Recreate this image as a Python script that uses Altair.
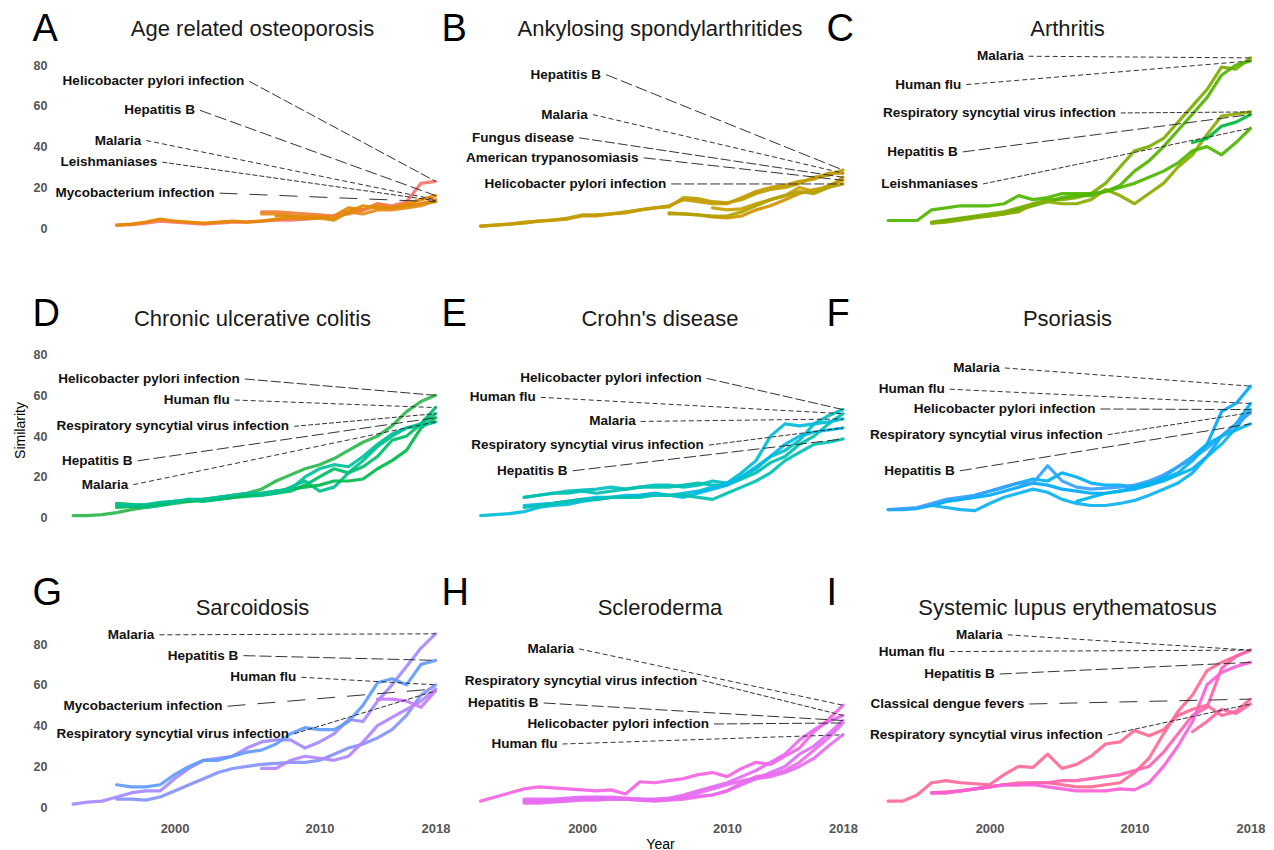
import altair as alt
import pandas as pd

# ---------------- data ----------------
titles = ["Age related osteoporosis", "Ankylosing spondylarthritides", "Arthritis",
          "Chronic ulcerative colitis", "Crohn's disease", "Psoriasis",
          "Sarcoidosis", "Scleroderma", "Systemic lupus erythematosus"]
letters = ["A", "B", "C", "D", "E", "F", "G", "H", "I"]

# Panel A
A_names = ["Helicobacter pylori infection", "Hepatitis B", "Malaria", "Leishmaniases", "Mycobacterium infection"]
A_start = [1996, 1996, 2006, 2006, 2007]
A_vals = [[1.5, 1.8, 2.5, 3.5, 3, 2.5, 2, 2.5, 3, 3, 3.5, 4, 4, 4.5, 5, 6, 8, 9, 12, 11, 13, 22, 23],
          [1.5, 2, 3, 4.5, 3.5, 3, 2.5, 3, 3.5, 3, 3.5, 4.5, 5, 5, 5.5, 6, 10, 9, 11, 10, 12, 14, 16],
          [8, 8, 7.5, 7, 6.5, 6, 7, 9, 12, 10, 11, 12, 14],
          [7, 7, 6, 6, 5.5, 5, 8, 7, 9, 9, 10, 11, 13.5],
          [6, 6, 5, 5, 4, 8, 11, 10, 10, 11, 12, 13]]
A_colors = ["#F8766D", "#E58700", "#F07F3C", "#E88B1E", "#DE8C00"]
A_label_year = [2004.8, 2001.4, 1997.7, 1998.8, 2002.75]
A_label_value = [72, 57.8, 43, 32.4, 17.2]

# Panel B
B_names = ["Hepatitis B", "Malaria", "Fungus disease", "American trypanosomiasis", "Helicobacter pylori infection"]
B_start = [1993, 1993, 2006, 2009, 2006]
B_vals = [[1, 1.5, 2, 2.5, 3.5, 4, 5, 6.5, 6.5, 7, 8, 9, 10, 10.5, 15, 14.5, 13, 12.5, 14, 17, 19, 20, 22, 25, 26, 28.5],
          [1, 1.5, 2, 3, 3.5, 4, 4.5, 6, 6, 7, 7.5, 9, 10, 11, 14, 13, 12, 12, 15, 18, 20, 21, 23, 24, 27, 27],
          [7.5, 7, 6.5, 5.5, 5, 6, 9, 11, 14, 17, 19, 20, 25],
          [10, 9, 9.5, 12, 14, 16, 20, 18, 21, 23.5],
          [7, 7, 6.5, 6, 6, 8, 11, 14, 16, 18, 17, 20, 21.7]]
B_colors = ["#B8A000", "#C49A00", "#D39200", "#C9A000", "#AFA300"]
B_label_year = [2001.3, 2000.4, 1999.45, 2003.9, 2005.8]
B_label_value = [75.3, 55.7, 44.3, 34.5, 21.7]

# Panel C
C_names = ["Malaria", "Human flu", "Respiratory syncytial virus infection", "Hepatitis B", "Leishmaniases"]
C_start = [1996, 1996, 1996, 2014, 1993]
C_vals = [[3, 4, 5, 6, 7, 8, 10, 12, 14, 14, 15, 17, 22, 30, 38, 40, 44, 52, 60, 68, 79, 78, 83.5],
          [2.5, 3.5, 4.5, 5.5, 6, 7, 9, 11, 13, 15, 16, 16, 18, 21, 28, 33, 40, 48, 56, 64, 75, 80, 82],
          [2.5, 3, 4, 5, 6, 7, 8, 12, 13, 12, 12, 14, 19, 16, 12, 17, 22, 30, 36, 46, 55, 56, 57],
          [42, 44, 50, 52, 55.7],
          [3.8, 3.8, 3.8, 9, 10, 11, 11, 11, 12, 16, 14, 15, 17, 17, 17, 18, 20, 22, 25, 28, 32, 38, 40, 36, 42, 49]]
C_colors = ["#7CAE00", "#53B400", "#8AAB00", "#00BA38", "#4DB600"]
C_label_year = [2002.35, 1998.05, 2008.7, 1997.8, 1999.2]
C_label_value = [84.3, 70.4, 56.5, 37.4, 21.7]

# Panel D
D_names = ["Helicobacter pylori infection", "Human flu", "Respiratory syncytial virus infection", "Hepatitis B", "Malaria"]
D_start = [1993, 1996, 1996, 1996, 1996]
D_vals = [[1, 1, 1.5, 2.5, 4, 5, 6, 7, 8, 9, 10, 11, 12, 14, 18, 21, 24, 26, 29, 33, 37, 40, 45, 52, 57, 60],
          [7, 6.5, 6, 7, 8, 8.5, 8, 9, 10, 11, 11, 12, 13, 16, 20, 24, 22, 25, 30, 38, 40, 46, 54],
          [6, 5.5, 5, 6, 7.5, 9, 8.5, 9, 10, 10.5, 11, 12, 15, 18, 13, 15, 22, 28, 35, 40, 44, 46, 51],
          [5, 5.5, 6, 7, 8, 8, 9, 9.5, 10, 11, 12, 13, 14, 15, 16, 18, 18, 19, 24, 28, 33, 44, 49],
          [6, 6, 6.5, 7.5, 8, 9, 9, 10, 11, 12, 12, 13, 14, 20, 24, 26, 25, 30, 36, 41, 44, 45, 47]]
D_colors = ["#2DB94D", "#00BE67", "#00C08B", "#00BB4E", "#00C19A"]
D_label_year = [2004.5, 2003.8, 2007.9, 1997.1, 1996.8]
D_label_value = [68, 57.7, 44.8, 27.9, 16.2]

# Panel E
E_names = ["Helicobacter pylori infection", "Human flu", "Malaria", "Respiratory syncytial virus infection", "Hepatitis B"]
E_start = [1996, 1996, 1993, 1996, 1996]
E_vals = [[10, 11, 12, 13, 13.5, 14, 15, 14, 15, 16, 16, 15, 16, 18, 17, 20, 24, 30, 33, 38, 46, 50, 53],
          [10, 11, 12, 12, 13, 12, 13, 14, 15, 15, 15, 16, 17, 16, 16, 19, 22, 27, 30, 36, 40, 46, 51],
          [1, 1.5, 2, 3, 5, 6, 6.5, 8, 9, 10, 10, 11, 12, 11, 12, 13, 15, 17, 22, 28, 40, 46, 45, 46, 47, 48.4],
          [6, 6.5, 7, 8, 9, 10, 10, 11, 11, 12, 11, 10, 12, 14, 16, 20, 25, 30, 36, 40, 42, 43, 44],
          [5, 6, 7, 8, 9, 9, 10, 10, 10, 11, 11, 11, 10, 9, 12, 15, 18, 22, 28, 32, 36, 37, 38.6]]
E_colors = ["#00BFC4", "#00C0AF", "#00BCD8", "#00B8E7", "#00C1B2"]
E_label_year = [2008.25, 1996.8, 2003.7, 2008.4, 1999.0]
E_label_value = [68.3, 59, 47.2, 35.6, 23]

# Panel F
F_names = ["Malaria", "Human flu", "Helicobacter pylori infection", "Respiratory syncytial virus infection", "Hepatitis B"]
F_start = [1993, 1996, 1996, 1993, 2006]
F_vals = [[4, 4, 4.5, 6, 8, 9, 10, 11, 13, 15, 17, 16, 14, 13, 12, 12, 13, 14, 16, 20, 25, 30, 36, 52, 56, 64.5],
          [6, 8, 9, 11, 13, 15, 17, 19, 18, 22, 20, 17, 16, 16, 15, 16, 18, 21, 24, 30, 40, 46, 56],
          [6, 5, 4, 3.5, 7, 10, 12, 14, 12.5, 9, 7, 6, 6, 7, 8.5, 11, 14, 17, 22, 30, 36, 44, 53],
          [4, 4.5, 5, 7, 9, 10, 11, 13, 15, 17, 17, 25.5, 18, 15, 14, 14.5, 15, 16, 18, 21, 25, 29, 34, 40, 46, 51.5],
          [8, 10, 12, 13, 15, 17, 19, 22, 28, 36, 40, 43, 46]]
F_colors = ["#00A9FF", "#00B0F6", "#0CB2F0", "#35A2FF", "#00B4EF"]
F_label_year = [2000.7, 1996.9, 2007.3, 2007.8, 1997.6]
F_label_value = [73.4, 63, 53.3, 40.7, 23]

# Panel G
G_names = ["Malaria", "Hepatitis B", "Human flu", "Mycobacterium infection", "Respiratory syncytial virus infection"]
G_start = [1993, 1996, 1996, 2006, 2014]
G_vals = [[1.5, 2.5, 3, 5, 7, 8, 8, 14, 19, 23, 24, 25, 29, 32, 33, 33, 29, 32, 36, 43, 42, 52, 60, 69, 78, 85],
          [11, 10, 10, 11, 16, 20, 23, 23, 25, 27, 28, 31, 36, 39, 38, 38, 42, 50, 61, 63, 60, 70, 72],
          [4, 4, 3.5, 5, 8, 11, 14, 17, 19, 20, 21, 21.5, 22, 22, 23, 26, 29, 31, 34, 38, 45, 55, 60],
          [19, 19, 23, 25, 24, 23, 25, 32, 40, 44, 48, 52, 58],
          [53, 53, 52, 49, 57]]
G_colors = ["#A58AFF", "#619CFF", "#8494FF", "#B385FF", "#C77CFF"]
G_label_year = [1998.6, 2004.4, 2008.4, 2003.3, 2007.9]
G_label_value = [84.5, 74.3, 63.7, 49.5, 36]

# Panel H
H_names = ["Malaria", "Respiratory syncytial virus infection", "Hepatitis B", "Helicobacter pylori infection", "Human flu"]
H_start = [1993, 1996, 1996, 1996, 1996]
H_vals = [[3, 5, 7, 9, 10, 9.5, 9, 8.5, 8, 8.5, 6.5, 12.5, 12, 13, 14, 16, 17, 15, 19, 22, 21, 25, 29, 37, 43, 50],
          [4, 4, 4, 4.5, 5, 5, 5, 4.5, 4, 4, 4.5, 6, 8, 10, 12, 15, 18, 22, 26, 33, 38, 42, 45],
          [3, 3, 3.5, 4, 4, 4.5, 4, 4, 3.5, 3.5, 4, 4.5, 5.5, 6, 8, 11, 14, 17, 20, 26, 30, 36, 42.5],
          [2, 2, 2.5, 3, 3.5, 3.5, 4, 4, 3.5, 3, 3.5, 4, 5, 6, 8, 12, 15, 16, 18, 22, 28, 34, 41.3],
          [3, 3, 3, 3.5, 4, 4, 4, 4, 4, 3.5, 4, 5, 7, 9, 11, 13, 14, 15, 17, 20, 24, 30, 35.5]]
H_colors = ["#F564E3", "#E76BF3", "#DC71FA", "#EE6AEB", "#E56EF0"]
H_label_year = [1999.45, 2007.95, 1997.0, 2008.75, 1998.3]
H_label_value = [77.6, 62.1, 51.1, 40.8, 31]

# Panel I
I_names = ["Malaria", "Human flu", "Hepatitis B", "Classical dengue fevers", "Respiratory syncytial virus infection"]
I_start = [1996, 1996, 1996, 1993, 2014]
I_vals = [[7, 7.5, 8, 9, 10, 11, 12, 12, 12, 11, 10, 10, 11, 12, 17, 24, 36, 47, 55, 67, 71, 74, 77],
          [7, 7, 8, 9, 10, 11, 11, 12, 12, 13, 13, 14, 15, 16, 18, 20, 27, 36, 45, 49, 68, 74, 77],
          [7, 7, 8, 9, 10, 11, 11, 11, 10, 9, 8, 8, 8, 9, 8.5, 12, 20, 30, 42, 60, 66, 69, 71],
          [3, 3, 6, 12, 13, 12, 11.5, 11, 16, 20, 19.5, 26, 19, 21, 25, 31, 32, 37.6, 35, 38, 45, 48, 50, 45, 47, 53],
          [37, 42, 48, 46, 50.6]]
I_colors = ["#FF6C91", "#FF64B0", "#FB61D7", "#FF6A98", "#FF67A4"]
I_label_year = [2000.9, 1996.9, 2000.35, 2002.4, 2007.8]
I_label_value = [84.5, 76.3, 65.3, 50.6, 35.4]

x_ticks = [2000, 2010, 2018]
y_ticks = [0, 20, 40, 60, 80]
letter_year_by_col = [1990.2, 1990.3, 1988.75]
letter_value_by_row = [91.8, 94.1, 99.0]
title_value = 94.1

# ---------------- styles ----------------
DASHES = {
    "A": [[10, 3], [12, 4], [5, 3], [5, 2], [18, 12]],
    "B": [[8, 3], [6, 3], [4, 2], [4, 2], [24, 16]],
    "C": [[80, 60], [12, 5], [30, 18], [8, 3], [6, 3]],
    "D": [[8, 3], [20, 10], [6, 2], [8, 3], [5, 2]],
    "E": [[6, 3], [15, 8], [45, 25], [6, 3], [8, 4]],
    "F": [[15, 8], [15, 8], [30, 15], [6, 3], [8, 4]],
    "G": [[50, 30], [20, 10], [12, 5], [8, 3], [4, 1]],
    "H": [[8, 3], [6, 2], [15, 6], [1, 0], [20, 10]],
    "I": [[15, 8], [1, 0], [20, 10], [25, 12], [4, 2]],
}
FONT = "Liberation Sans"
X_DOMAIN = [1991.75, 2019.0]
Y_DOMAIN = [-4.3, 90.3]
W, H = 395, 193

panel_data = [
    (A_names, A_start, A_vals, A_colors, A_label_year, A_label_value),
    (B_names, B_start, B_vals, B_colors, B_label_year, B_label_value),
    (C_names, C_start, C_vals, C_colors, C_label_year, C_label_value),
    (D_names, D_start, D_vals, D_colors, D_label_year, D_label_value),
    (E_names, E_start, E_vals, E_colors, E_label_year, E_label_value),
    (F_names, F_start, F_vals, F_colors, F_label_year, F_label_value),
    (G_names, G_start, G_vals, G_colors, G_label_year, G_label_value),
    (H_names, H_start, H_vals, H_colors, H_label_year, H_label_value),
    (I_names, I_start, I_vals, I_colors, I_label_year, I_label_value),
]


def make_panel(i):
    names, starts, vals, colors, lyear, lval = panel_data[i]
    row, col = divmod(i, 3)
    recs = []
    for n, s, v, c in zip(names, starts, vals, colors):
        for k, val in enumerate(v):
            recs.append({"series": n, "year": s + k, "value": val, "color": c})
    df = pd.DataFrame(recs)
    lab = pd.DataFrame({
        "series": names,
        "lx": lyear,
        "ly": lval,
        "sx": [x + 0.35 for x in lyear],
        "ex": [s + len(v) - 1 for s, v in zip(starts, vals)],
        "ey": [v[-1] for v in vals],
    })
    let = pd.DataFrame({"t": [letters[i]], "x": [letter_year_by_col[col]], "y": [letter_value_by_row[row]]})
    ttl = pd.DataFrame({"t": [titles[i]], "x": [sum(X_DOMAIN) / 2], "y": [title_value]})

    xscale = alt.Scale(domain=X_DOMAIN, nice=False, zero=False)
    yscale = alt.Scale(domain=Y_DOMAIN, nice=False, zero=False)
    if row == 2:
        xaxis = alt.Axis(values=x_ticks, format="d", labelFontSize=13, labelColor="#555555",
                         labelFontWeight="bold", labelPadding=6, title="Year" if i == 7 else None,
                         titleFontSize=14, titleFontWeight="normal", titleColor="#000000",
                         titlePadding=2, labelFont=FONT, titleFont=FONT)
    else:
        xaxis = None
    if col == 0:
        yaxis = alt.Axis(values=y_ticks, labelFontSize=12.5, labelColor="#555555", labelFontWeight="bold",
                         labelPadding=8, title="Similarity" if i == 3 else None, titleFontSize=14,
                         titleFontWeight="normal", titleColor="#000000", titlePadding=6,
                         labelFont=FONT, titleFont=FONT)
    else:
        yaxis = None

    def xe(f):
        return alt.X(f, type="quantitative", scale=xscale, axis=xaxis)

    def ye(f):
        return alt.Y(f, type="quantitative", scale=yscale, axis=yaxis)

    lines = alt.Chart(df).mark_line(strokeWidth=3.2, strokeCap="round", strokeJoin="round", opacity=0.92).encode(
        x=xe("year"), y=ye("value"),
        color=alt.Color("color:N", scale=None),
        detail="series:N",
    )
    segs = alt.Chart(lab).mark_rule(strokeWidth=1, color="#333333").encode(
        x=xe("sx"), y=ye("ly"), x2="ex:Q", y2="ey:Q",
        strokeDash=alt.StrokeDash("series:N", scale=alt.Scale(domain=names, range=DASHES[letters[i]]), legend=None),
    )
    texts = alt.Chart(lab).mark_text(align="right", baseline="middle", fontSize=13.5, fontWeight="bold",
                                     font=FONT, color="#111111").encode(
        x=xe("lx"), y=ye("ly"), text="series:N")
    letter = alt.Chart(let).mark_text(align="left", baseline="alphabetic", fontSize=38, font=FONT,
                                      color="#000000").encode(
        x=xe("x"), y=ye("y"), text="t:N")
    title = alt.Chart(ttl).mark_text(align="center", baseline="alphabetic", fontSize=22, font=FONT,
                                     color="#1a1a1a").encode(
        x=xe("x"), y=ye("y"), text="t:N")
    return alt.layer(lines, segs, texts, letter, title).properties(width=W, height=H)


panels = [make_panel(i) for i in range(9)]
chart = alt.concat(*panels, columns=3, spacing={"row": 96.5, "column": 12.5}, bounds="flush").properties(
    padding={"left": 5, "top": 2, "right": 0, "bottom": 0}
).configure_axis(
    grid=False, domain=False, ticks=False
).configure_view(stroke=None)

chart.save("out.html", embed_options={"renderer": "svg", "actions": False})
